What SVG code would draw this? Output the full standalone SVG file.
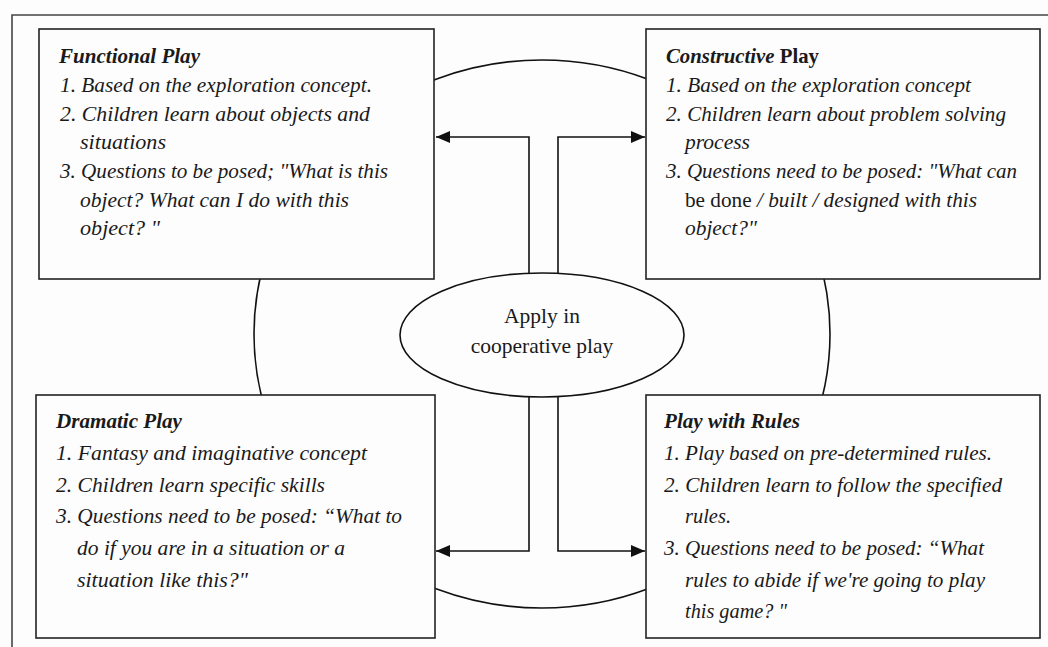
<svg xmlns="http://www.w3.org/2000/svg" width="1048" height="647" viewBox="0 0 1048 647">
<defs>
<style>
.frame{fill:none;stroke:#444;stroke-width:1.6}
.box{fill:#fdfdfd;stroke:#222;stroke-width:1.6}
.ring{fill:none;stroke:#111;stroke-width:1.6}
.conn{fill:none;stroke:#111;stroke-width:1.6}
.t{font-family:"Liberation Serif","Times New Roman",serif;font-size:21px;font-style:italic;fill:#1a1a1a}
.h{font-weight:bold}
.up{font-style:normal}
.c{font-family:"Liberation Serif","Times New Roman",serif;font-size:21.5px;fill:#1a1a1a;text-anchor:middle}
</style>
<marker id="arr" viewBox="0 0 14 12" refX="14" refY="6" markerWidth="14" markerHeight="12" markerUnits="userSpaceOnUse" orient="auto">
<path d="M0,0 L14,6 L0,12 z" fill="#111"/>
</marker>
</defs>
<rect width="1048" height="647" fill="#fdfdfd"/>
<path class="frame" d="M12,647 L12,15 L1048,15"/>
<ellipse class="ring" cx="542" cy="334" rx="288" ry="274"/>
<g id="connectors">
<path class="conn" d="M529,273 L529,137 L436,137" marker-end="url(#arr)"/>
<path class="conn" d="M558,273 L558,137 L645,137" marker-end="url(#arr)"/>
<path class="conn" d="M529,397 L529,551 L436,551" marker-end="url(#arr)"/>
<path class="conn" d="M558,397 L558,551 L645,551" marker-end="url(#arr)"/>
</g>
<g id="center">
<ellipse cx="542" cy="335" rx="142" ry="62" fill="#fdfdfd" stroke="#111" stroke-width="1.6"/>
<text class="c" x="542" y="323">Apply in</text>
<text class="c" x="542" y="353">cooperative play</text>
</g>
<g id="functional">
<rect class="box" x="39" y="29" width="395" height="250"/>
<text class="t h" x="59" y="63" textLength="141" lengthAdjust="spacingAndGlyphs">Functional Play</text>
<text class="t" x="60" y="92" textLength="312" lengthAdjust="spacingAndGlyphs">1. Based on the exploration concept.</text>
<text class="t" x="60" y="121" textLength="310" lengthAdjust="spacingAndGlyphs">2. Children learn about objects and</text>
<text class="t" x="80" y="149" textLength="86" lengthAdjust="spacingAndGlyphs">situations</text>
<text class="t" x="60" y="178" textLength="328" lengthAdjust="spacingAndGlyphs">3. Questions to be posed; "What is this</text>
<text class="t" x="80" y="207" textLength="269" lengthAdjust="spacingAndGlyphs">object? What can I do with this</text>
<text class="t" x="80" y="235" textLength="80" lengthAdjust="spacingAndGlyphs">object? "</text>
</g>
<g id="constructive">
<rect class="box" x="646" y="29" width="394" height="250"/>
<text class="t h" x="666" y="63" textLength="153" lengthAdjust="spacingAndGlyphs">Constructive <tspan class="up">Play</tspan></text>
<text class="t" x="666" y="92" textLength="305" lengthAdjust="spacingAndGlyphs">1. Based on the exploration concept</text>
<text class="t" x="666" y="121" textLength="340" lengthAdjust="spacingAndGlyphs">2. Children learn about problem solving</text>
<text class="t" x="685" y="149" textLength="65" lengthAdjust="spacingAndGlyphs">process</text>
<text class="t" x="666" y="178" textLength="351" lengthAdjust="spacingAndGlyphs">3. Questions need to be posed: "What can</text>
<text class="t" x="685" y="207" textLength="292" lengthAdjust="spacingAndGlyphs"><tspan class="up">be done</tspan> / built / designed with this</text>
<text class="t" x="685" y="235" textLength="72" lengthAdjust="spacingAndGlyphs">object?"</text>
</g>
<g id="dramatic">
<rect class="box" x="36" y="395" width="399" height="243"/>
<text class="t h" x="56" y="428" textLength="126" lengthAdjust="spacingAndGlyphs">Dramatic Play</text>
<text class="t" x="56" y="460" textLength="311" lengthAdjust="spacingAndGlyphs">1. Fantasy and imaginative concept</text>
<text class="t" x="56" y="492" textLength="269" lengthAdjust="spacingAndGlyphs">2. Children learn specific skills</text>
<text class="t" x="56" y="523" textLength="346" lengthAdjust="spacingAndGlyphs">3. Questions need to be posed: “What to</text>
<text class="t" x="77" y="555" textLength="268" lengthAdjust="spacingAndGlyphs">do if you are in a situation or a</text>
<text class="t" x="77" y="587" textLength="171" lengthAdjust="spacingAndGlyphs">situation like this?"</text>
</g>
<g id="rules">
<rect class="box" x="646" y="395" width="394" height="243"/>
<text class="t h" x="664" y="428" textLength="136" lengthAdjust="spacingAndGlyphs">Play with Rules</text>
<text class="t" x="664" y="460" textLength="328" lengthAdjust="spacingAndGlyphs">1. Play based on pre-determined rules.</text>
<text class="t" x="664" y="492" textLength="338" lengthAdjust="spacingAndGlyphs">2. Children learn to follow the specified</text>
<text class="t" x="685" y="523" textLength="46" lengthAdjust="spacingAndGlyphs">rules.</text>
<text class="t" x="664" y="555" textLength="320" lengthAdjust="spacingAndGlyphs">3. Questions need to be posed: “What</text>
<text class="t" x="685" y="587" textLength="300" lengthAdjust="spacingAndGlyphs">rules to abide if we're going to play</text>
<text class="t" x="685" y="618" textLength="102" lengthAdjust="spacingAndGlyphs">this game? "</text>
</g>
</svg>
